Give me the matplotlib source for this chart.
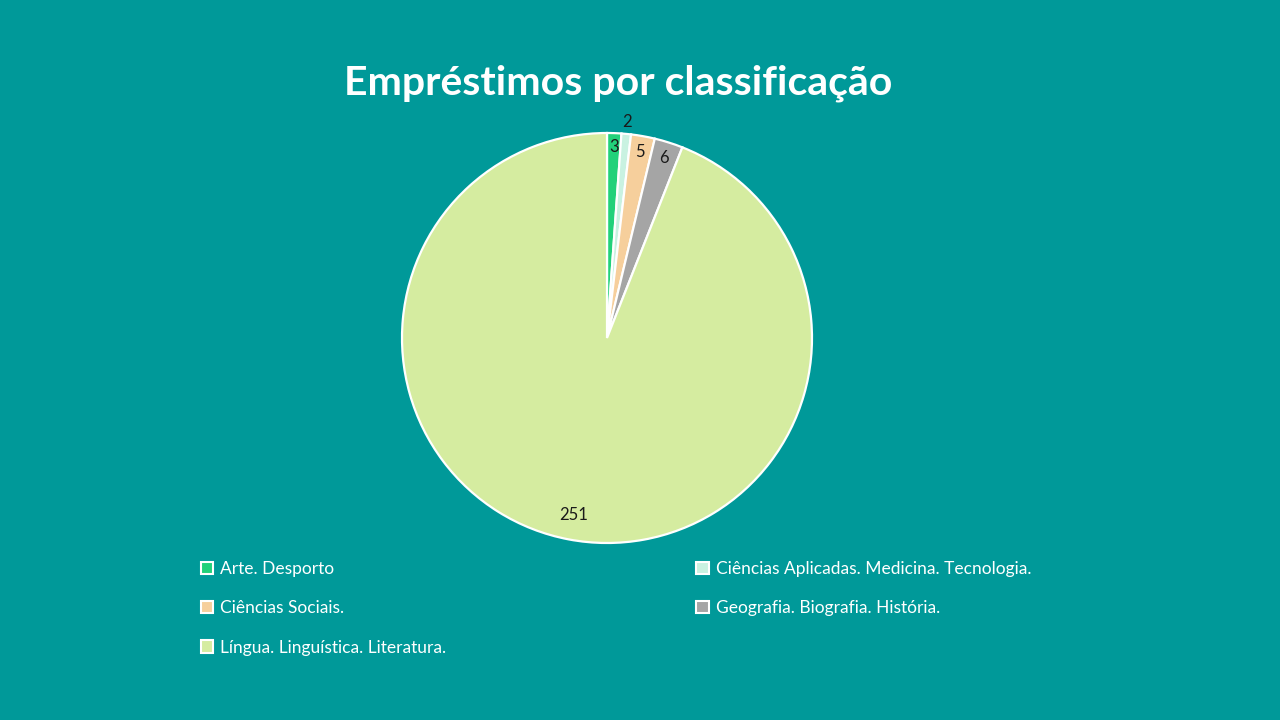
import numpy as np
import matplotlib.pyplot as plt
from matplotlib.patches import Patch

categories = ["Arte. Desporto", "Ciências Aplicadas. Medicina. Tecnologia.",
              "Ciências Sociais.", "Geografia. Biografia. História.",
              "Língua. Linguística. Literatura."]
values = [3, 2, 5, 6, 251]
colors = ["#22d17a", "#c9f2e1", "#f6cf9c", "#a5a5a5", "#d5eca0"]
label_dist = [0.93, 1.06, 0.92, 0.92, 0.88]

bg = "#009999"
plt.rcParams['font.family'] = ['Lato', 'DejaVu Sans']

fig = plt.figure(figsize=(12.8, 7.2), dpi=100, facecolor=bg)
cx, cy, r = 607, 338, 205
ax = fig.add_axes([(cx - r) / 1280, (720 - cy - r) / 720, 2 * r / 1280, 2 * r / 720])
ax.set_facecolor(bg)

wedges, _ = ax.pie(values, colors=colors, startangle=90, counterclock=False,
                   wedgeprops=dict(edgecolor="white", linewidth=1.6))
ax.set_xlim(-1, 1)
ax.set_ylim(-1, 1)
ax.set_aspect("equal")

for w, v, d in zip(wedges, values, label_dist):
    ang = np.deg2rad((w.theta1 + w.theta2) / 2)
    ax.text(d * np.cos(ang), d * np.sin(ang), str(v), ha="center", va="center",
            fontsize=12, color="#1a1a1a")

fig.text(0.483, 0.885, "Empréstimos por classificação", ha="center", va="center",
         fontsize=29.5, fontweight="bold", color="white")

# legend is filled row by row in the reference
order = [0, 2, 4, 1, 3]
handles = [Patch(facecolor=colors[i], edgecolor="white", linewidth=1.5) for i in order]
leg = fig.legend(handles, [categories[i] for i in order], ncol=2, loc="upper left",
                 bbox_to_anchor=(0.145, 0.243), frameon=False, fontsize=12.5,
                 labelcolor="white", handlelength=0.7, handleheight=0.7,
                 handletextpad=0.4, columnspacing=14.4, labelspacing=1.35)

fig.savefig("out.png", dpi=100, facecolor=bg)
